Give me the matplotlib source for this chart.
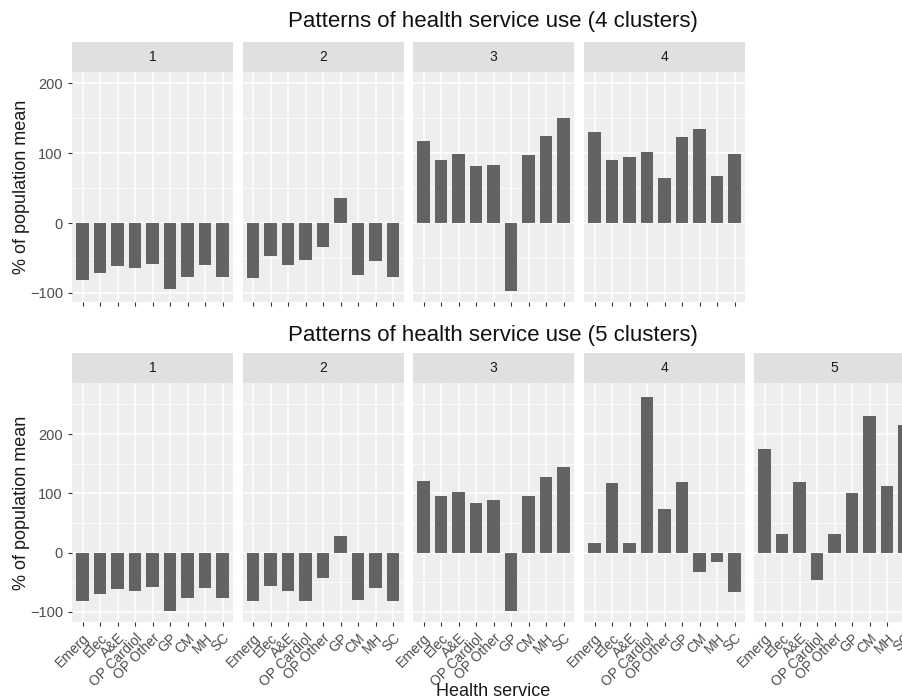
import matplotlib

matplotlib.use("Agg")

import matplotlib.pyplot as plt
from matplotlib.ticker import MultipleLocator

plt.rcParams["font.family"] = ["Liberation Sans", "DejaVu Sans"]

services = ["Emerg", "Elec", "A&E", "OP Cardiol", "OP Other", "GP", "CM", "MH", "SC"]

# 4-cluster solution (% of population mean)
k4_c1 = [-81, -71, -61, -64, -59, -95, -77, -60, -77]
k4_c2 = [-78, -47, -60, -53, -35, 36, -75, -55, -77]
k4_c3 = [117, 90, 99, 81, 83, -97, 97, 125, 150]
k4_c4 = [130, 90, 94, 101, 65, 123, 134, 67, 99]

# 5-cluster solution
k5_c1 = [-82, -70, -62, -64, -58, -98, -76, -60, -76]
k5_c2 = [-82, -56, -64, -82, -42, 28, -80, -60, -82]
k5_c3 = [121, 95, 102, 84, 88, -98, 95, 127, 145]
k5_c4 = [16, 117, 16, 263, 73, 119, -32, -16, -66]
k5_c5 = [174, 32, 119, -46, 32, 101, 231, 113, 216]

k4 = [k4_c1, k4_c2, k4_c3, k4_c4]
k5 = [k5_c1, k5_c2, k5_c3, k5_c4, k5_c5]

PANEL_BG = "#EFEDED"
STRIP_BG = "#E0DFE1"
BAR = "#636363"
W, H = 902, 700

fig = plt.figure(figsize=(W / 100, H / 100), dpi=100)

lefts = [72, 242.5, 413, 584, 754]
pw = 161


def px_box(x0, y0, w, h):
    # pixel box (top-left origin) -> figure fraction rect
    return [x0 / W, 1 - (y0 + h) / H, w / W, h / H]


def draw_row(clusters, y_strip, y_top, y_bot, ylim, labels):
    for i, vals in enumerate(clusters):
        ax = fig.add_axes(px_box(lefts[i], y_top, pw, y_bot - y_top))
        ax.set_facecolor(PANEL_BG)
        ax.bar(range(len(services)), vals, width=0.7, color=BAR, zorder=3)
        ax.set_xlim(-0.6, len(services) - 0.4)
        ax.set_ylim(*ylim)
        ax.yaxis.set_major_locator(MultipleLocator(100))
        ax.yaxis.set_minor_locator(MultipleLocator(50))
        ax.set_xticks(range(len(services)))
        ax.grid(True, which="major", color="white", lw=1.1, zorder=0)
        ax.grid(True, which="minor", axis="y", color="white", lw=0.55, zorder=0)
        for s in ax.spines.values():
            s.set_visible(False)
        ax.tick_params(axis="both", which="major", length=3, width=0.8,
                       color="#333333", labelcolor="#4D4D4D", labelsize=10.5)
        ax.tick_params(axis="y", which="minor", length=0)
        if labels:
            ax.set_xticklabels(services, rotation=45, ha="right",
                               rotation_mode="anchor", fontsize=10)
        else:
            ax.set_xticklabels([])
        if i > 0:
            ax.set_yticklabels([])
            ax.tick_params(axis="y", which="major", length=0)
        else:
            ax.set_ylabel("% of population mean", fontsize=13, color="#1A1A1A",
                          labelpad=0)

        strip = fig.add_axes(px_box(lefts[i], y_strip, pw, y_top - y_strip))
        strip.set_facecolor(STRIP_BG)
        strip.set_xticks([])
        strip.set_yticks([])
        for s in strip.spines.values():
            s.set_visible(False)
        strip.text(0.5, 0.5, str(i + 1), ha="center", va="center",
                   fontsize=10, color="#1A1A1A", transform=strip.transAxes)


draw_row(k4, 42, 72, 302, (-113, 216), labels=False)
draw_row(k5, 353, 383, 622, (-117, 286), labels=True)

fig.text(493 / W, 1 - 22 / H, "Patterns of health service use (4 clusters)",
         ha="center", va="center", fontsize=16, color="#111111")
fig.text(493 / W, 1 - 336 / H, "Patterns of health service use (5 clusters)",
         ha="center", va="center", fontsize=16, color="#111111")
fig.text(493 / W, 1 - 692 / H, "Health service", ha="center", va="center",
         fontsize=13, color="#1A1A1A")

fig.savefig("out.png", dpi=100)
